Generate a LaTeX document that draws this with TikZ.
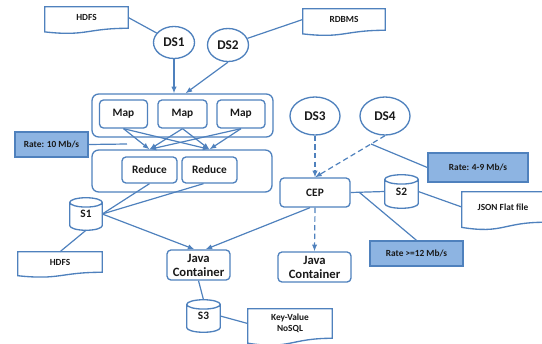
\documentclass[tikz,border=0pt]{standalone}
\usepackage{fontspec}
\setmainfont{Carlito}
\usetikzlibrary{shapes.geometric,arrows.meta,calc}
\newdimen\pxu \pxu=0.75pt
\definecolor{lncol}{RGB}{79,129,189}
\definecolor{ratefill}{RGB}{141,180,226}
\definecolor{txt}{RGB}{25,25,25}
\newcommand\docdraw[1]{%
 \draw[lnst] (#1.north west) -- (#1.north east) -- (#1.south east)
   .. controls (#1.south) and ($(#1.south)!-0.3875!(#1.north)$)
   .. ($(#1.south west)!-0.1675!(#1.north west)$) -- cycle;}
\newcommand\cyldraw[1]{%
 \draw[lnst] let \p1=(#1.south west), \p2=(#1.north east) in
  (\x1,{\y2-3.5pt}) -- (\x1,{\y1+3.5pt}) arc[start angle=180, end angle=360, x radius={0.5*(\x2-\x1)}, y radius=3.5pt] -- (\x2,{\y2-3.5pt}) arc[start angle=0, end angle=180, x radius={0.5*(\x2-\x1)}, y radius=3.5pt] -- cycle
  (\x1,{\y2-3.5pt}) arc[start angle=180, end angle=360, x radius={0.5*(\x2-\x1)}, y radius=3.5pt];}
\begin{document}
\begin{tikzpicture}[x=0.75pt,y=-0.75pt,
  every node/.style={text=txt},
  lnst/.style={draw=lncol, line width=1pt},
  dsnode/.style={ellipse, draw=lncol, line width=1pt, inner sep=0pt, font=\bfseries\fontsize{10}{11}\selectfont},
  rbox/.style={rectangle, rounded corners=3pt, draw=lncol, line width=1pt, inner sep=0pt, font=\bfseries\fontsize{8.5}{10}\selectfont},
  grp/.style={rectangle, rounded corners=5pt, draw=lncol, line width=1pt, inner sep=0pt},
  ratebox/.style={rectangle, draw=lncol, fill=ratefill, line width=1pt, inner sep=0pt, font=\bfseries\fontsize{7}{8}\selectfont},
  docnode/.style={rectangle, inner sep=0pt, align=center, font=\bfseries\fontsize{7}{8.5}\selectfont},
  cylnode/.style={rectangle, inner sep=0pt, font=\bfseries\fontsize{8.5}{10}\selectfont},
  conn/.style={draw=lncol, line width=0.9pt},
  arr/.style={conn, -{Latex[length=5pt,width=4pt]}},
  darr/.style={arr, dash pattern=on 4pt off 2.5pt}]
\useasboundingbox (0,0) rectangle (542,343);
% documents
\node[docnode, minimum width=83\pxu, minimum height=21\pxu] (hdfs1) at (86.5,17.5) {HDFS};
\node[docnode, minimum width=82\pxu, minimum height=21\pxu] (rdbms) at (344,19.5) {RDBMS};
\node[docnode, minimum width=84\pxu, minimum height=20\pxu] (hdfs2) at (60,262) {HDFS};
\node[docnode, minimum width=84\pxu, minimum height=29\pxu] (kv) at (290,323.5) {Key-Value\\NoSQL};
\node[docnode, minimum width=82\pxu, minimum height=30\pxu] (json) at (503,207) {JSON Flat file};
\docdraw{hdfs1}\docdraw{rdbms}\docdraw{hdfs2}\docdraw{kv}\docdraw{json}
% data sources
\node[dsnode, minimum width=41\pxu, minimum height=32\pxu] (ds1) at (174,42.5) {DS1};
\node[dsnode, minimum width=41\pxu, minimum height=33\pxu] (ds2) at (228,45) {DS2};
\node[dsnode, minimum width=50\pxu, minimum height=38\pxu] (ds3) at (315,116) {DS3};
\node[dsnode, minimum width=50\pxu, minimum height=38\pxu] (ds4) at (385,116) {DS4};
% map / reduce
\node[grp, minimum width=181\pxu, minimum height=43\pxu] (mapgrp) at (182.5,115.5) {};
\node[rbox, minimum width=48\pxu, minimum height=28\pxu] (map1) at (123.5,114) {Map};
\node[rbox, minimum width=49\pxu, minimum height=28\pxu] (map2) at (182.5,114) {Map};
\node[rbox, minimum width=48\pxu, minimum height=28\pxu] (map3) at (241,114) {Map};
\node[grp, minimum width=180\pxu, minimum height=42\pxu] (redgrp) at (182,171) {};
\node[rbox, minimum width=55\pxu, minimum height=26\pxu] (red1) at (149.5,170) {Reduce};
\node[rbox, minimum width=55\pxu, minimum height=26\pxu] (red2) at (209.5,170) {Reduce};
% rate boxes
\node[ratebox, minimum width=73\pxu, minimum height=25\pxu] (rate10) at (51.5,144.5) {Rate: 10 Mb/s};
\node[ratebox, minimum width=100\pxu, minimum height=29\pxu] (rate49) at (478,167.5) {Rate: 4-9 Mb/s};
\node[ratebox, minimum width=93\pxu, minimum height=25\pxu] (rate12) at (416.5,253.5) {Rate >=12 Mb/s};
% storages
\node[cylnode, minimum width=32\pxu, minimum height=32\pxu] (s1) at (86,214) {S1};
\node[cylnode, minimum width=33\pxu, minimum height=33\pxu] (s2) at (401.5,191.5) {S2};
\node[cylnode, minimum width=33\pxu, minimum height=32\pxu] (s3) at (203.5,316) {S3};
\cyldraw{s1}\cyldraw{s2}\cyldraw{s3}
% processing
\node[rbox, minimum width=70\pxu, minimum height=29\pxu] (cep) at (315,192.5) {CEP};
\node[rbox, align=center, font=\bfseries\fontsize{9.5}{10.5}\selectfont, minimum width=63\pxu, minimum height=30\pxu] (java1) at (198.5,265) {Java\\Container};
\node[rbox, align=center, font=\bfseries\fontsize{9.5}{10.5}\selectfont, minimum width=73\pxu, minimum height=30\pxu] (java2) at (314.5,267) {Java\\Container};
% connectors
\draw[conn] (hdfs1.east) -- (ds1);
\draw[conn] (ds2) -- (rdbms.west);
\draw[arr] (ds1.south) -- (ds1.south |- mapgrp.north);
\coordinate (m2in) at ($(mapgrp.north)+(3,0)$);
\draw[arr] (ds2.south) -- (m2in);
\coordinate (ra) at (red1 |- redgrp.north);
\coordinate (rb) at (red2 |- redgrp.north);
\foreach \m in {map1,map2,map3}{
  \draw[arr] (\m.south) -- (ra);
  \draw[arr] (\m.south) -- (rb);
}
\coordinate (r10end) at (127,144);
\draw[conn] (rate10.east) -- (r10end);
\draw[conn] (red1.south) -- (s1.east);
\draw[conn] ($(red2.south)+(-6,0)$) -- (s1.east);
\draw[arr] (s1.east) -- ($(java1.north)+(-4,0)$);
\draw[conn] (s1.south) -- (hdfs2.north);
\draw[conn] (java1.south) -- (s3.north);
\draw[conn] (s3.east) -- (kv.west);
\draw[darr] (ds3.south) -- (cep.north);
\draw[darr] (ds4.south) -- (cep.north);
\coordinate (d4m) at ($(ds4.south)!0.2!(cep.north)$);
\draw[conn] (rate49.west) -- (d4m);
\draw[conn] (cep.east) -- (s2.west);
\draw[conn] (s2.east) -- (json.west);
\draw[conn] ($(cep.east)!0.25!(s2.west)$) -- (rate12.north);
\draw[darr] (cep.south) -- (java2.north);
\draw[arr] ($(cep.south)+(-5,0)$) -- ($(java1.north)+(7,0)$);
\end{tikzpicture}
\end{document}
